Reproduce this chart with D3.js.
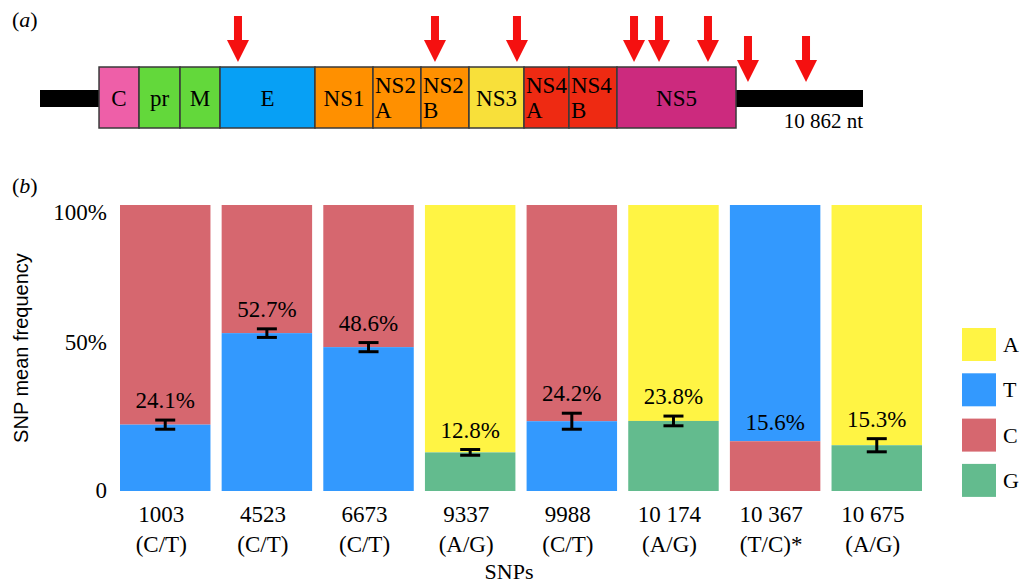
<!DOCTYPE html>
<html>
<head>
<meta charset="utf-8">
<script src="https://cdn.jsdelivr.net/npm/d3@7"></script>
<style>
  html, body { margin: 0; padding: 0; background: #ffffff; }
  svg { display: block; }
</style>
</head>
<body>
<svg id="chart" width="1024" height="583"></svg>
<script>
// ---------- Panel (a) data: genome schematic ----------
const genomeLength = 10862;
const geneNames = ["C", "pr", "M", "E", "NS1", "NS2\nA", "NS2\nB", "NS3", "NS4\nA", "NS4\nB", "NS5"];
const geneStarts = [779, 1307, 1848, 2376, 3629, 4395, 5028, 5662, 6388, 6981, 7615];
const geneEnds   = [1307, 1848, 2376, 3629, 4395, 5028, 5662, 6388, 6981, 7615, 9186];
const geneColors = ["#ee5fa8", "#63d83b", "#63d83b", "#07a0f5", "#ff9000", "#ff9000", "#ff9000", "#f8e03a", "#ee2a12", "#ee2a12", "#cc2a7e"];
const arrowPositions = [2613, 5213, 6295, 7840, 8170, 8816, 9344, 10110];
const arrowInUTR = [false, false, false, false, false, false, true, true];

// ---------- Panel (b) data: SNP frequencies ----------
const snps = ["1003", "4523", "6673", "9337", "9988", "10 174", "10 367", "10 675"];
const alleleLabels = ["(C/T)", "(C/T)", "(C/T)", "(A/G)", "(C/T)", "(A/G)", "(T/C)*", "(A/G)"];
const upperBase = ["C", "C", "C", "A", "C", "A", "T", "A"];
const lowerBase = ["T", "T", "T", "G", "T", "G", "C", "G"];
const lowerFreq = [23.2, 55.2, 50.3, 13.5, 24.4, 24.5, 17.4, 16.0];
const freqError = [1.6, 1.5, 1.6, 1.0, 2.8, 1.7, 0, 2.3];
const freqLabels = ["24.1%", "52.7%", "48.6%", "12.8%", "24.2%", "23.8%", "15.6%", "15.3%"];
const yTicks = [0, 50, 100];
const yTickLabels = ["0", "50%", "100%"];
const legendBases = ["A", "T", "C", "G"];
const baseColors = ["#fff444", "#3399fe", "#d6676f", "#63bb8e"];

const serif = "'Liberation Serif', 'Times New Roman', serif";
const sans = "'Liberation Sans', Arial, sans-serif";

const svg = d3.select("#chart");
const colorOf = d3.scaleOrdinal().domain(legendBases).range(baseColors);

// ================= Panel (a) =================
const gx = d3.scaleLinear().domain([0, genomeLength]).range([40, 863]);
const boxTop = 67, boxBottom = 128, lineTop = 90, lineBottom = 107;

const la = svg.append("text").attr("x", 12).attr("y", 27)
  .attr("font-family", serif).attr("font-size", 22);
la.append("tspan").text("(");
la.append("tspan").attr("font-style", "italic").text("a");
la.append("tspan").text(")");

// black UTR lines
svg.append("rect").attr("x", gx(0)).attr("y", lineTop)
  .attr("width", gx(geneStarts[0]) - gx(0)).attr("height", lineBottom - lineTop).attr("fill", "#000");
svg.append("rect").attr("x", gx(geneEnds[geneEnds.length - 1])).attr("y", lineTop)
  .attr("width", gx(genomeLength) - gx(geneEnds[geneEnds.length - 1])).attr("height", lineBottom - lineTop).attr("fill", "#000");

const genes = geneNames.map((n, i) => ({ name: n, s: geneStarts[i], e: geneEnds[i], c: geneColors[i] }));
const gg = svg.append("g");
gg.selectAll("rect.gene").data(genes).join("rect").attr("class", "gene")
  .attr("x", d => gx(d.s)).attr("y", boxTop)
  .attr("width", d => gx(d.e) - gx(d.s)).attr("height", boxBottom - boxTop)
  .attr("fill", d => d.c).attr("stroke", "#3a3a3a").attr("stroke-width", 1.5);

gg.selectAll("text.gene").data(genes).join("text").attr("class", "gene")
  .attr("font-family", serif).attr("font-size", 23).attr("fill", "#000")
  .each(function (d) {
    const t = d3.select(this);
    const lines = d.name.split("\n");
    if (lines.length === 1) {
      t.attr("x", (gx(d.s) + gx(d.e)) / 2).attr("y", 106).attr("text-anchor", "middle").text(lines[0]);
    } else {
      t.attr("text-anchor", "start");
      lines.forEach((l, k) => {
        t.append("tspan").attr("x", gx(d.s) + 2).attr("y", 93 + k * 25).text(l);
      });
    }
  });

svg.append("text").attr("x", gx(genomeLength)).attr("y", 128).attr("text-anchor", "end")
  .attr("font-family", serif).attr("font-size", 21).text("10 862 nt");

// red arrows
const arrowLen = 46, shaftW = 8, headW = 22, headL = 22;
function arrowPath(cx, tip) {
  const top = tip - arrowLen, hb = tip - headL;
  return `M${cx - shaftW / 2},${top} L${cx + shaftW / 2},${top} L${cx + shaftW / 2},${hb} L${cx + headW / 2},${hb} L${cx},${tip} L${cx - headW / 2},${hb} L${cx - shaftW / 2},${hb} Z`;
}
svg.append("g").selectAll("path").data(arrowPositions).join("path")
  .attr("d", (p, i) => arrowPath(gx(p), arrowInUTR[i] ? 82 : 62))
  .attr("fill", "#f51010");

// ================= Panel (b) =================
const lb = svg.append("text").attr("x", 12).attr("y", 193)
  .attr("font-family", serif).attr("font-size", 22);
lb.append("tspan").text("(");
lb.append("tspan").attr("font-style", "italic").text("b");
lb.append("tspan").text(")");

const x = d3.scaleBand().domain(snps).range([120, 922]).paddingInner(0.11).paddingOuter(0);
const y = d3.scaleLinear().domain([0, 100]).range([491, 205]);

const rows = snps.map((s, i) => ({
  snp: s, low: lowerFreq[i], err: freqError[i], lab: freqLabels[i],
  up: upperBase[i], lo: lowerBase[i], allele: alleleLabels[i]
}));

const bars = svg.append("g");
bars.selectAll("rect.upper").data(rows).join("rect").attr("class", "upper")
  .attr("x", d => x(d.snp)).attr("width", x.bandwidth())
  .attr("y", y(100)).attr("height", d => y(d.low) - y(100))
  .attr("fill", d => colorOf(d.up));
bars.selectAll("rect.lower").data(rows).join("rect").attr("class", "lower")
  .attr("x", d => x(d.snp)).attr("width", x.bandwidth())
  .attr("y", d => y(d.low)).attr("height", d => y(0) - y(d.low))
  .attr("fill", d => colorOf(d.lo));

// error bars
const capW = 20;
const eb = svg.append("g").attr("stroke", "#000").attr("stroke-width", 3);
rows.filter(d => d.err > 0).forEach(d => {
  const cx = x(d.snp) + x.bandwidth() / 2;
  eb.append("line").attr("x1", cx).attr("x2", cx).attr("y1", y(d.low + d.err)).attr("y2", y(d.low - d.err));
  eb.append("line").attr("x1", cx - capW / 2).attr("x2", cx + capW / 2).attr("y1", y(d.low + d.err)).attr("y2", y(d.low + d.err));
  eb.append("line").attr("x1", cx - capW / 2).attr("x2", cx + capW / 2).attr("y1", y(d.low - d.err)).attr("y2", y(d.low - d.err));
});

// value labels
svg.append("g").selectAll("text").data(rows).join("text")
  .attr("x", d => x(d.snp) + x.bandwidth() / 2)
  .attr("y", d => y(d.low + d.err) - (d.err > 0 ? 12 : 11))
  .attr("text-anchor", "middle").attr("font-family", serif).attr("font-size", 23)
  .text(d => d.lab);

// y axis (labels only)
const yAxis = d3.axisLeft(y).tickValues(yTicks).tickFormat((v, i) => yTickLabels[i]).tickSize(0).tickPadding(0);
const yg = svg.append("g").attr("transform", "translate(107,0)").call(yAxis);
yg.select(".domain").remove();
yg.selectAll("text").attr("font-family", serif).attr("font-size", 23).attr("fill", "#000")
  .attr("dy", (v) => v === 100 ? "0.62em" : (v === 50 ? "0.05em" : "0.3em"));

svg.append("text").attr("transform", "translate(28,348) rotate(-90)")
  .attr("text-anchor", "middle").attr("font-family", sans).attr("font-size", 20)
  .text("SNP mean frequency");

// x axis labels
const xAxis = d3.axisBottom(x).tickSize(0).tickPadding(0).tickFormat(() => "");
const xg = svg.append("g").attr("transform", `translate(0,${y(0)})`).call(xAxis);
xg.select(".domain").remove();
xg.selectAll(".tick").each(function (s, i) {
  const t = d3.select(this).append("text").attr("fill", "#000")
    .attr("font-family", serif).attr("font-size", 23).attr("text-anchor", "middle");
  t.append("tspan").attr("x", -4).attr("y", 31).text(s);
  t.append("tspan").attr("x", -4).attr("y", 61).text(alleleLabels[i]);
});

svg.append("text").attr("x", 509).attr("y", 579).attr("text-anchor", "middle")
  .attr("font-family", serif).attr("font-size", 22).text("SNPs");

// legend
const lg = svg.append("g").attr("transform", "translate(962,328)");
const li = lg.selectAll("g").data(legendBases).join("g")
  .attr("transform", (d, i) => `translate(0,${i * 45.3})`);
li.append("rect").attr("width", 34).attr("height", 33).attr("fill", d => colorOf(d));
li.append("text").attr("x", 41).attr("y", 16.5).attr("dy", "0.35em")
  .attr("font-family", serif).attr("font-size", 22).text(d => d);
</script>
</body>
</html>
